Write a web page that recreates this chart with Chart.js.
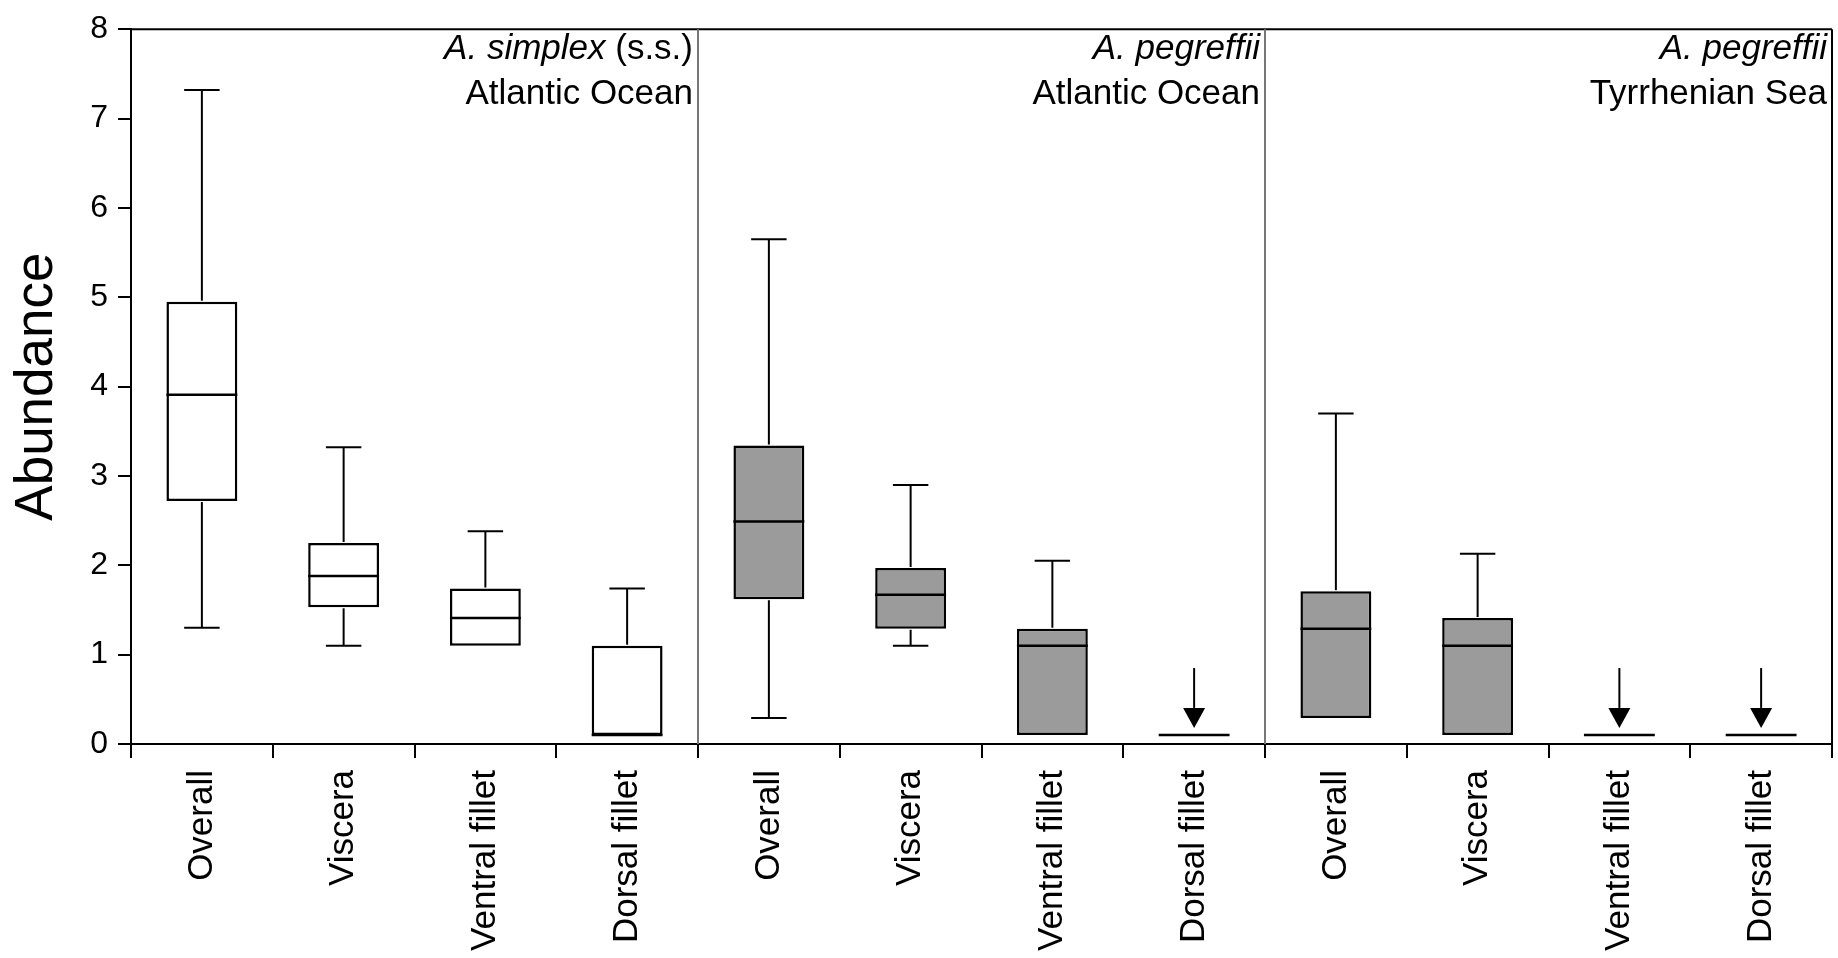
<!DOCTYPE html>
<html>
<head>
<meta charset="utf-8">
<script src="https://cdn.jsdelivr.net/npm/chart.js@4.4.1/dist/chart.umd.min.js"></script>
<style>
  html, body { margin: 0; padding: 0; background: #fff; }
  #wrap { width: 1838px; height: 958px; }
</style>
</head>
<body>
<div id="wrap"><canvas id="boxChart" width="1838" height="958"></canvas></div>
<script>
// 3 groups x 4 tissues
const categories = ['Overall', 'Viscera', 'Ventral fillet', 'Dorsal fillet',
                    'Overall', 'Viscera', 'Ventral fillet', 'Dorsal fillet',
                    'Overall', 'Viscera', 'Ventral fillet', 'Dorsal fillet'];

// panel titles
const groupSpecies = ['A. simplex', 'A. pegreffii', 'A. pegreffii'];
const groupSuffix = [' (s.s.)', '', ''];
const groupArea = ['Atlantic Ocean', 'Atlantic Ocean', 'Tyrrhenian Sea'];
const groupFill = ['#ffffff', '#9b9b9b', '#9b9b9b'];

// box plot values (abundance)
const whiskerMax = [7.32, 3.32, 2.38, 1.74, 5.65, 2.90, 2.05, 0.10, 3.70, 2.13, 0.10, 0.10];
const q3         = [4.95, 2.25, 1.74, 1.10, 3.34, 1.97, 1.29, 0.10, 1.71, 1.41, 0.10, 0.10];
const median     = [3.91, 1.88, 1.41, 0.10, 2.49, 1.67, 1.10, 0.10, 1.29, 1.10, 0.10, 0.10];
const q1         = [2.72, 1.53, 1.10, 0.10, 1.62, 1.29, 0.10, 0.10, 0.29, 0.10, 0.10, 0.10];
const whiskerMin = [1.30, 1.10, 1.10, 0.10, 0.29, 1.10, 0.10, 0.10, 0.29, 0.10, 0.10, 0.10];
// values at the lower limit get an arrow
const belowLimit = [false, false, false, false, false, false, false, true, false, false, true, true];
const arrowFrom = 0.85;
const arrowTo = 0.18;

const yTicks = [0, 1, 2, 3, 4, 5, 6, 7, 8];

const FONT = '"Liberation Sans", Arial, Helvetica, sans-serif';

function line(ctx, x1, y1, x2, y2) {
    ctx.beginPath();
    ctx.moveTo(x1, y1);
    ctx.lineTo(x2, y2);
    ctx.stroke();
}

const boxExtras = {
    id: 'boxExtras',
    afterDatasetsDraw(chart) {
        const { ctx, scales: { x, y } } = chart;
        const catW = x.getPixelForValue(1) - x.getPixelForValue(0);
        const boxHalf = catW * 0.25;
        const capHalf = catW * 0.125;
        ctx.save();
        ctx.strokeStyle = '#000';
        ctx.fillStyle = '#000';
        ctx.lineWidth = 2;
        categories.forEach((c, i) => {
            const cx = x.getPixelForValue(i);
            // whiskers
            if (whiskerMax[i] > q3[i]) {
                const yt = y.getPixelForValue(whiskerMax[i]);
                line(ctx, cx, y.getPixelForValue(q3[i]) - 1, cx, yt);
                line(ctx, cx - capHalf, yt, cx + capHalf, yt);
            }
            if (whiskerMin[i] < q1[i]) {
                const yb = y.getPixelForValue(whiskerMin[i]);
                line(ctx, cx, y.getPixelForValue(q1[i]) + 1, cx, yb);
                line(ctx, cx - capHalf, yb, cx + capHalf, yb);
            }
            // median
            ctx.lineWidth = 2.5;
            const ym = y.getPixelForValue(median[i]);
            line(ctx, cx - boxHalf, ym, cx + boxHalf, ym);
            ctx.lineWidth = 2;
            // arrow for values at the limit
            if (belowLimit[i]) {
                const y0 = y.getPixelForValue(arrowFrom);
                const y1 = y.getPixelForValue(arrowTo);
                const head = 20;
                line(ctx, cx, y0, cx, y1 - head);
                ctx.beginPath();
                ctx.moveTo(cx - 11, y1 - head);
                ctx.lineTo(cx + 11, y1 - head);
                ctx.lineTo(cx, y1);
                ctx.closePath();
                ctx.fill();
            }
        });
        ctx.restore();
    },
    afterDraw(chart) {
        const { ctx, chartArea, scales: { x } } = chart;
        const catW = x.getPixelForValue(1) - x.getPixelForValue(0);
        ctx.save();
        // frame top and right
        ctx.strokeStyle = '#000';
        ctx.lineWidth = 2;
        line(ctx, chartArea.left, chartArea.top, chartArea.right, chartArea.top);
        line(ctx, chartArea.right, chartArea.top, chartArea.right, chartArea.bottom);
        // panel dividers
        ctx.strokeStyle = '#777777';
        [3, 7].forEach(k => {
            const xb = x.getPixelForValue(k) + catW / 2;
            line(ctx, xb, chartArea.top, xb, chartArea.bottom);
        });
        // panel titles
        ctx.fillStyle = '#000';
        ctx.textBaseline = 'middle';
        ctx.textAlign = 'left';
        groupSpecies.forEach((sp, g) => {
            const right = x.getPixelForValue(g * 4 + 3) + catW / 2 - 5;
            ctx.font = 'italic 35px ' + FONT;
            const w1 = ctx.measureText(sp).width;
            ctx.font = '35px ' + FONT;
            const w2 = ctx.measureText(groupSuffix[g]).width;
            const y1 = chartArea.top + 20;
            ctx.font = 'italic 35px ' + FONT;
            ctx.fillText(sp, right - w1 - w2, y1);
            ctx.font = '35px ' + FONT;
            ctx.fillText(groupSuffix[g], right - w2, y1);
            ctx.textAlign = 'right';
            ctx.fillText(groupArea[g], right, chartArea.top + 65);
            ctx.textAlign = 'left';
        });
        ctx.restore();
    }
};

const ctx = document.getElementById('boxChart').getContext('2d');
new Chart(ctx, {
    type: 'bar',
    data: {
        labels: categories,
        datasets: [{
            label: 'Abundance',
            data: categories.map((c, i) => [q1[i], q3[i]]),
            backgroundColor: categories.map((c, i) => groupFill[Math.floor(i / 4)]),
            borderColor: '#000',
            borderWidth: 2.5,
            borderSkipped: false,
            barPercentage: 0.5,
            categoryPercentage: 1.0
        }]
    },
    options: {
        responsive: false,
        animation: false,
        layout: { padding: { top: 23, right: 6, left: 0, bottom: 0 } },
        plugins: {
            legend: { display: false },
            tooltip: { enabled: false }
        },
        scales: {
            x: {
                offset: true,
                grid: { offset: true, drawOnChartArea: false, drawTicks: true, tickLength: 14, color: '#000', lineWidth: 2 },
                border: { display: true, color: '#000', width: 2 },
                ticks: {
                    autoSkip: false, minRotation: 90, maxRotation: 90, padding: 12,
                    color: '#000', font: { family: FONT, size: 35 }
                },
                afterFit(scale) { scale.height = 214; }
            },
            y: {
                min: 0, max: 8,
                afterBuildTicks(scale) { scale.ticks = yTicks.map(v => ({ value: v })); },
                grid: { drawOnChartArea: false, drawTicks: true, tickLength: 13, color: '#000', lineWidth: 2 },
                border: { display: true, color: '#000', width: 2 },
                ticks: { color: '#000', padding: 10, font: { family: FONT, size: 32 } },
                title: {
                    display: true, text: 'Abundance', color: '#000',
                    font: { family: FONT, size: 53 }, padding: { top: 6, bottom: 0 }
                },
                afterFit(scale) { scale.width = 131; }
            }
        }
    },
    plugins: [boxExtras]
});
</script>
</body>
</html>
